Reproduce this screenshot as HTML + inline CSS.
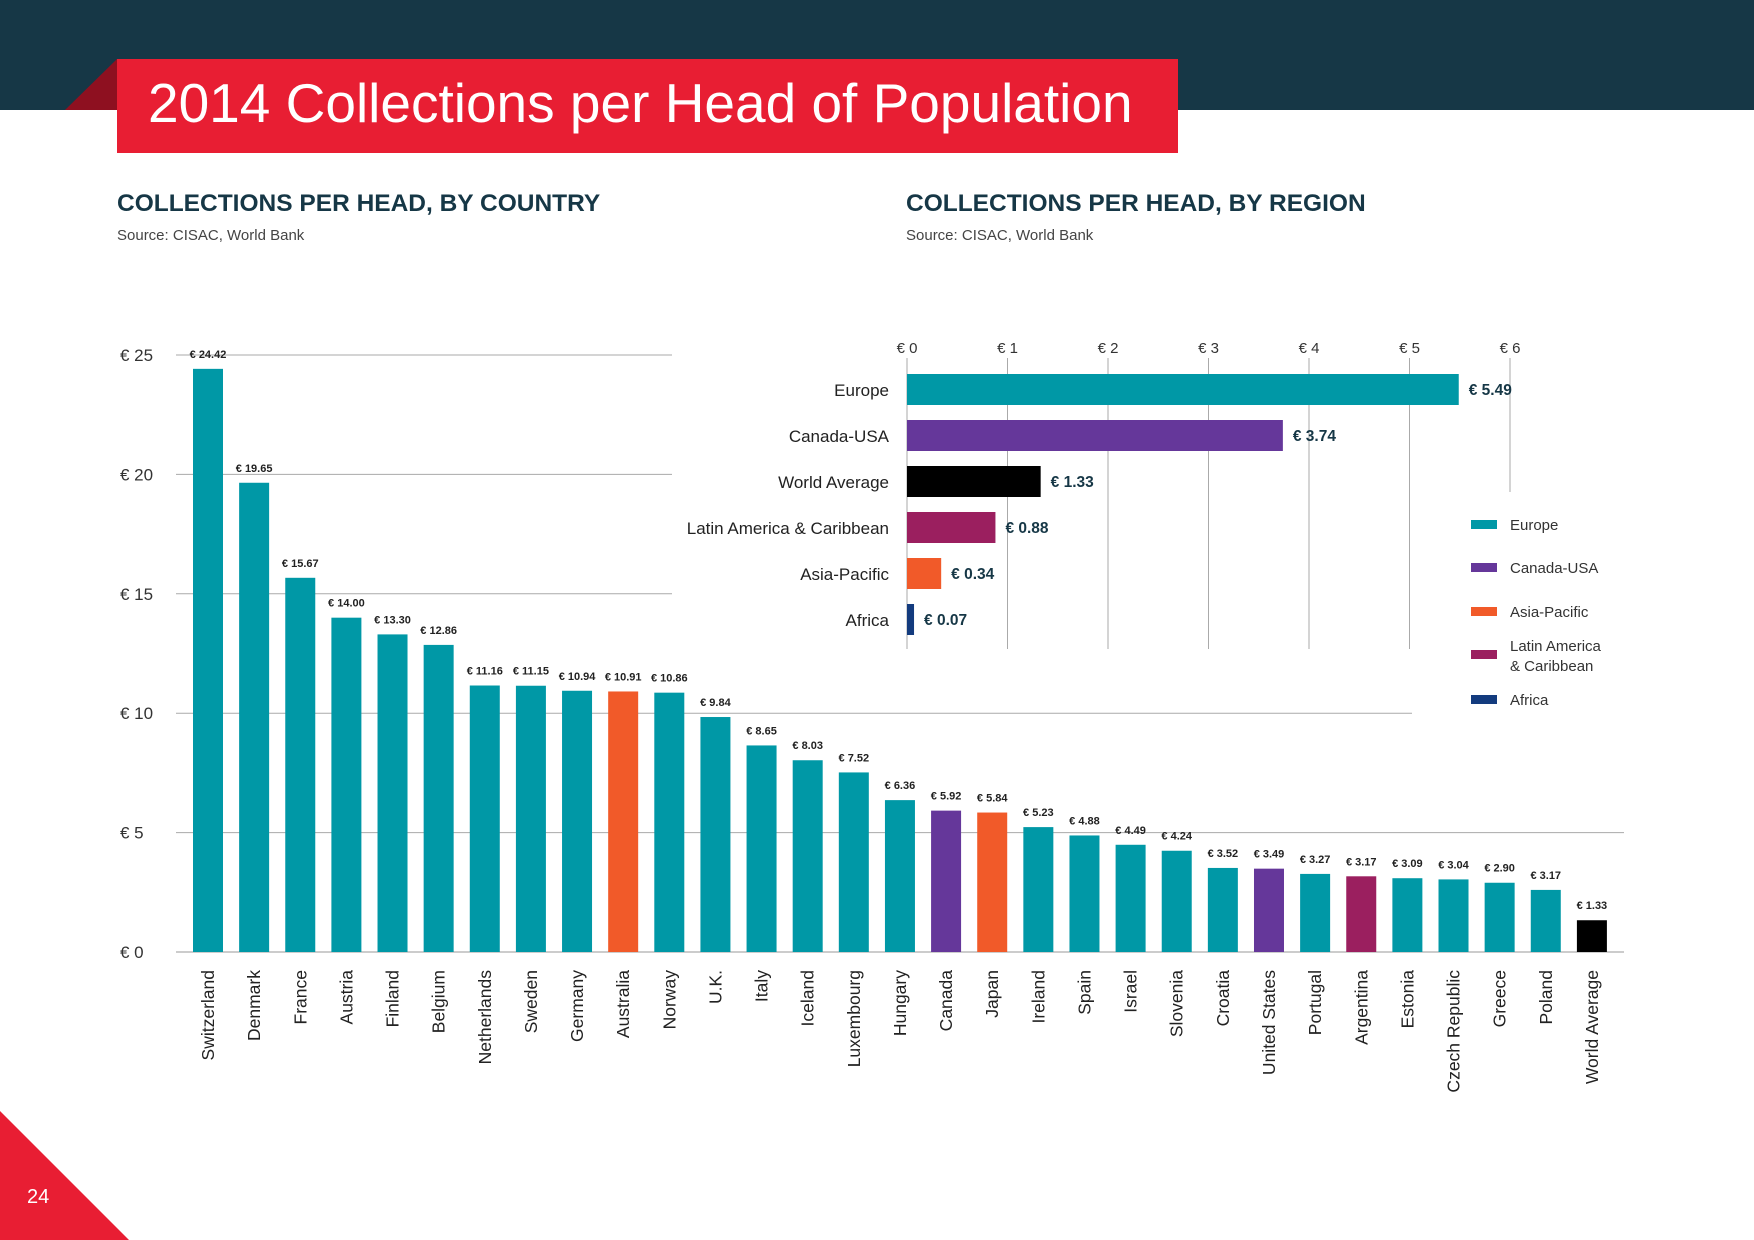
<!DOCTYPE html>
<html><head><meta charset="utf-8">
<style>
body{margin:0;width:1754px;height:1240px;overflow:hidden;background:#fff;font-family:"Liberation Sans",sans-serif;position:relative}
.abs{position:absolute}
</style></head>
<body>
<div class="abs" style="left:0;top:0;width:1754px;height:110px;background:#163746"></div>
<svg class="abs" style="left:0;top:0" width="1754" height="1240">
<polygon points="65,110 117,59 117,110" fill="#8e1020"/>
<polygon points="0,1111 129,1240 0,1240" fill="#e81e33"/>
</svg>
<div class="abs" style="left:117px;top:59px;width:1061px;height:94px;background:#e81e33"></div>
<div class="abs" style="left:148px;top:71px;color:#fff;font-size:55px;white-space:nowrap">2014 Collections per Head of Population</div>
<div class="abs" style="left:27px;top:1186px;color:#fff;font-size:20px">24</div>

<div class="abs" style="left:117px;top:190px;color:#163746;font-size:24.5px;font-weight:bold">COLLECTIONS PER HEAD, BY COUNTRY</div>
<div class="abs" style="left:117px;top:227px;color:#444;font-size:15px">Source: CISAC, World Bank</div>
<div class="abs" style="left:906px;top:190px;color:#163746;font-size:24.5px;font-weight:bold">COLLECTIONS PER HEAD, BY REGION</div>
<div class="abs" style="left:906px;top:227px;color:#444;font-size:15px">Source: CISAC, World Bank</div>

<svg id="chart" class="abs" style="left:0;top:0" width="1754" height="1240"></svg>

<script>
const countries=["Switzerland","Denmark","France","Austria","Finland","Belgium","Netherlands","Sweden","Germany","Australia","Norway","U.K.","Italy","Iceland","Luxembourg","Hungary","Canada","Japan","Ireland","Spain","Israel","Slovenia","Croatia","United States","Portugal","Argentina","Estonia","Czech Republic","Greece","Poland","World Average"];
const countryValues=[24.42,19.65,15.67,14.00,13.30,12.86,11.16,11.15,10.94,10.91,10.86,9.84,8.65,8.03,7.52,6.36,5.92,5.84,5.23,4.88,4.49,4.24,3.52,3.49,3.27,3.17,3.09,3.04,2.90,2.6,1.33];
const countryLabels=["€ 24.42","€ 19.65","€ 15.67","€ 14.00","€ 13.30","€ 12.86","€ 11.16","€ 11.15","€ 10.94","€ 10.91","€ 10.86","€ 9.84","€ 8.65","€ 8.03","€ 7.52","€ 6.36","€ 5.92","€ 5.84","€ 5.23","€ 4.88","€ 4.49","€ 4.24","€ 3.52","€ 3.49","€ 3.27","€ 3.17","€ 3.09","€ 3.04","€ 2.90","€ 3.17","€ 1.33"];
const countryGroups=["eu","eu","eu","eu","eu","eu","eu","eu","eu","ap","eu","eu","eu","eu","eu","eu","na","ap","eu","eu","eu","eu","eu","na","eu","la","eu","eu","eu","eu","wa"];
const yTicks=[0,5,10,15,20,25];
const regions=["Europe","Canada-USA","World Average","Latin America & Caribbean","Asia-Pacific","Africa"];
const regionValues=[5.49,3.74,1.33,0.88,0.34,0.07];
const regionGroups=["eu","na","wa","la","ap","af"];
const xTicks=[0,1,2,3,4,5,6];
const legendNames=["Europe","Canada-USA","Asia-Pacific","Latin America\n& Caribbean","Africa"];
const legendGroups=["eu","na","ap","la","af"];

const colors={eu:"#0098a6",na:"#65379a",ap:"#f15a29",la:"#9b1f5f",wa:"#000000",af:"#133b7e"};
const svg=document.getElementById('chart');
const NS="http://www.w3.org/2000/svg";
function mk(tag,attrs,txt){const e=document.createElementNS(NS,tag);for(const k in attrs)e.setAttribute(k,attrs[k]);if(txt!==undefined)e.textContent=txt;svg.appendChild(e);return e;}

const y0=952,yPer=(952-355)/25;
const yScale=v=>y0-v*yPer;
const x0=208,xStep=46.13;
const xScale=i=>x0+i*xStep;
const gridRight={0:1624,5:1624,10:1412,15:672,20:672,25:672};
yTicks.forEach(t=>{
  const l=mk('line',{x1:176,x2:gridRight[t],y1:yScale(t),y2:yScale(t),stroke:t===0?"#999":"#aaa","stroke-width":1});
  
  
  const tx=mk('text',{x:120,y:yScale(t)+6,"font-size":17,fill:"#333"},"€ "+t);
  
  
});
countries.forEach((c,i)=>{
  const v=countryValues[i],x=xScale(i);
  const r=mk('rect',{x:x-15,y:yScale(v),width:30,height:y0-yScale(v),fill:colors[countryGroups[i]]});
  
  
  const lb=mk('text',{x:x,y:yScale(v)-11,"font-size":11,"font-weight":"bold","text-anchor":"middle",fill:"#222"},countryLabels[i]);
  
  
  const cl=mk('text',{x:0,y:0,"font-size":17.5,fill:"#222",transform:`translate(${x+6},970) rotate(-90)`,"text-anchor":"end"},c);
  
  
});

const rx0=907,rxPer=(1510-907)/6;
const rxScale=v=>rx0+v*rxPer;
const ry0=390,ryStep=46;
const ryScale=i=>ry0+i*ryStep;
xTicks.forEach(t=>{
  const l=mk('line',{x1:rxScale(t),x2:rxScale(t),y1:358,y2:t===6?492:649,stroke:"#aaa","stroke-width":1});
  
  
  const tx=mk('text',{x:rxScale(t),y:353,"font-size":15,fill:"#333","text-anchor":"middle"},"€ "+t);
  
  
});
regions.forEach((r,i)=>{
  const y=ryScale(i),v=regionValues[i];
  const b=mk('rect',{x:rx0,y:y-16,width:rxScale(v)-rx0,height:31,fill:colors[regionGroups[i]]});
  
  
  const lb=mk('text',{x:889,y:y+6,"font-size":17,fill:"#222","text-anchor":"end"},r);
  
  
  const vl=mk('text',{x:rxScale(v)+10,y:y+5,"font-size":15.5,"font-weight":"bold",fill:"#163746"},"€ "+v.toFixed(2));
  
  
});
const legY=[525,568,612,655,700];
legendNames.forEach((n,i)=>{
  const s=mk('rect',{x:1471,y:legY[i]-5,width:26,height:9,fill:colors[legendGroups[i]]});
  
  
  const lines=n.split("\n");
  lines.forEach((ln,j)=>{
    const t=mk('text',{x:1510,y:legY[i]+(lines.length>1?-4+j*20:5),"font-size":15,fill:"#333"},ln);
    
    
  });
});
</script>
</body></html>
